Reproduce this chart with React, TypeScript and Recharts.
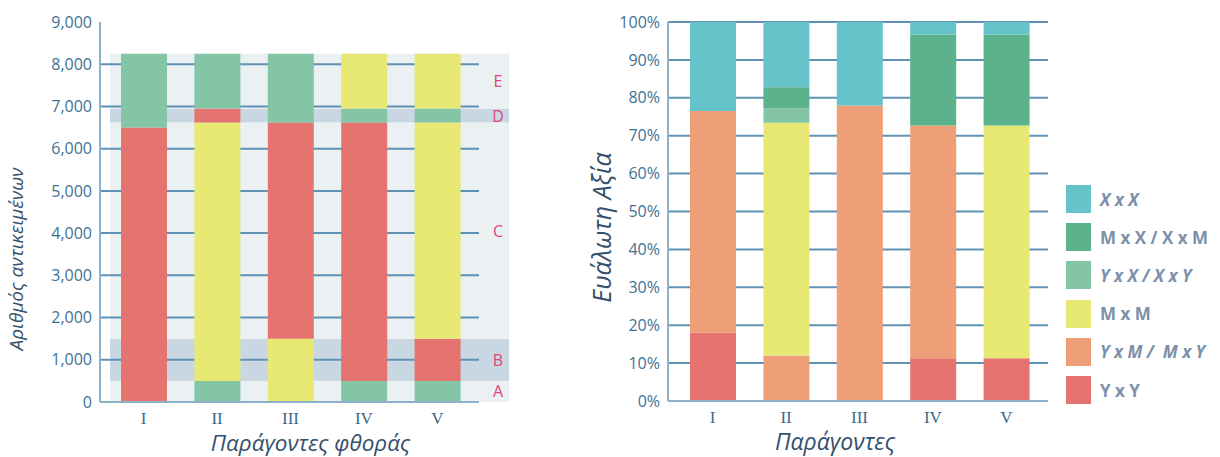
import React from 'react';
import {
  BarChart,
  Bar,
  Cell,
  XAxis,
  YAxis,
  CartesianGrid,
  ReferenceArea,
  Legend,
  Label,
} from 'recharts';

// categories
const factors = ['I', 'II', 'III', 'IV', 'V'];

// left chart: segments per factor, bottom to top [count, class]
const wearSegments: [number, string][][] = [
  [[6500, 'YY'], [1750, 'YX']],
  [[500, 'YX'], [6120, 'MM'], [330, 'YY'], [1300, 'YX']],
  [[1500, 'MM'], [5120, 'YY'], [1630, 'YX']],
  [[500, 'YX'], [6120, 'YY'], [330, 'YX'], [1300, 'MM']],
  [[500, 'YX'], [1000, 'YY'], [5120, 'MM'], [330, 'YX'], [1300, 'MM']],
];
const countTicks = [0, 1000, 2000, 3000, 4000, 5000, 6000, 7000, 8000, 9000];

// left chart background zones
const zoneLetters = ['A', 'B', 'C', 'D', 'E'];
const zoneFrom = [0, 500, 1500, 6620, 6950];
const zoneTo = [500, 1500, 6620, 6950, 8250];

// right chart: share of vulnerable value (%)
const seriesKeys = ['YY', 'YM', 'MM', 'YX', 'MX', 'XX'];
const seriesNames = ['Y x Y', 'Y x M /  M x Y', 'M x M', 'Y x X / X x Y', 'M x X / X x M', 'X x X'];
const yyShare = [18, 0, 0, 11.3, 11.3];
const ymShare = [58.5, 12, 78, 61.4, 0];
const mmShare = [0, 61.4, 0, 0, 61.4];
const yxShare = [0, 3.8, 0, 0, 0];
const mxShare = [0, 5.6, 0, 24, 24];
const xxShare = [23.5, 17.2, 22, 3.3, 3.3];
const pctTicks = [0, 10, 20, 30, 40, 50, 60, 70, 80, 90, 100];

const COLORS: Record<string, string> = {
  YY: '#e57470',
  YM: '#ee9f77',
  MM: '#e8e875',
  YX: '#83c5a5',
  MX: '#5bb28c',
  XX: '#66c3c9',
};
const ITALIC: Record<string, boolean> = { XX: true, MX: false, YX: true, MM: false, YM: true, YY: false };

const GRID = '#5f92b4';
const FRAME = '#8db1ca';
const TICK = '#3e7296';
const TITLE = '#34506c';
const SANS = '"Open Sans", sans-serif';
const PAD_L = 7;
const PAD_R = 5;

const wearRows = factors.map((f, i) => {
  const row: any = { factor: f };
  for (let j = 0; j < 5; j++) {
    const seg = wearSegments[i][j];
    row['s' + j] = seg ? seg[0] : 0;
    row['c' + j] = seg ? seg[1] : null;
  }
  return row;
});

const shareRows = factors.map((f, i) => ({
  factor: f,
  YY: yyShare[i],
  YM: ymShare[i],
  MM: mmShare[i],
  YX: yxShare[i],
  MX: mxShare[i],
  XX: xxShare[i],
}));

const serifTick = (props: any) => {
  const { x, y, payload } = props;
  return (
    <text x={x} y={y + 14} textAnchor="middle" fill="#3d6a8a" fontSize={17} fontFamily='"Liberation Serif", serif'>
      {payload.value}
    </text>
  );
};

const title = (text: string, dx: number, dy: number, vertical: boolean, size: number) => (props: any) => {
  const vb = props.viewBox;
  const cx = vertical ? vb.x + dx : vb.x + vb.width / 2 + dx;
  const cy = vertical ? vb.y + vb.height / 2 + dy : vb.y + dy;
  return (
    <text
      x={cx}
      y={cy}
      textAnchor="middle"
      fill={TITLE}
      fontSize={size}
      fontStyle="italic"
      fontFamily={SANS}
      transform={vertical ? `rotate(-90 ${cx} ${cy})` : undefined}
    >
      {text}
    </text>
  );
};

// zone band, with the grid lines that fall inside it redrawn on top
const zoneShape = (idx: number) => (props: any) => {
  const { x, y, width, height } = props;
  const from = zoneFrom[idx];
  const to = zoneTo[idx];
  const k = height / (to - from);
  const inside = countTicks.filter((t) => t > from && t < to);
  return (
    <g>
      <rect x={x + 3} y={y} width={width + 32} height={height} fill={idx % 2 ? '#c8d7e1' : '#ebf0f3'} />
      {inside.map((t) => {
        const py = y + height - (t - from) * k;
        return <line key={t} x1={x - PAD_L} x2={x + width + PAD_R} y1={py} y2={py} stroke={GRID} strokeWidth={2} />;
      })}
      <text x={x + width + 24} y={y + height / 2 + 6} textAnchor="middle" fill="#e0457b" fontSize={16} fontFamily={SANS}>
        {zoneLetters[idx]}
      </text>
    </g>
  );
};

const ShareLegend = () => (
  <div style={{ display: 'flex', flexDirection: 'column' }}>
    {[...seriesKeys].reverse().map((k) => (
      <div key={k} style={{ display: 'flex', alignItems: 'center', height: 38.2 }}>
        <div style={{ width: 25, height: 28, background: COLORS[k], marginRight: 9 }} />
        <span
          style={{
            fontFamily: SANS,
            fontSize: 17,
            fontWeight: 700,
            fontStyle: ITALIC[k] ? 'italic' : 'normal',
            color: '#7c90a9',
            whiteSpace: 'pre',
          }}
        >
          {seriesNames[seriesKeys.indexOf(k)]}
        </span>
      </div>
    ))}
  </div>
);

export default function App() {
  return (
    <div style={{ position: 'absolute', left: 0, top: 0, width: 1220, height: 457, background: '#fff' }}>
      <div style={{ position: 'absolute', left: 0, top: 0 }}>
        <BarChart width={540} height={457} data={wearRows} margin={{ top: 22, right: 61, bottom: 25, left: 0 }}>
          {zoneFrom.map((v, i) => (
            <ReferenceArea key={i} y1={v} y2={zoneTo[i]} ifOverflow="visible" shape={zoneShape(i)} />
          ))}
          <XAxis
            dataKey="factor"
            height={30}
            padding={{ left: PAD_L, right: PAD_R }}
            tickLine={false}
            axisLine={{ stroke: FRAME, strokeWidth: 2 }}
            tick={serifTick}
            interval={0}
          >
            <Label content={title('Παράγοντες φθοράς', 21, 49, false, 22.5)} />
          </XAxis>
          <XAxis xAxisId="top" dataKey="factor" orientation="top" height={0} tick={false} tickLine={false} axisLine={{ stroke: FRAME, strokeWidth: 2 }} />
          <YAxis
            width={100}
            domain={[0, 9000]}
            ticks={countTicks}
            tickFormatter={(v: number) => v.toLocaleString('en-US')}
            tickLine={false}
            axisLine={{ stroke: FRAME, strokeWidth: 2 }}
            tick={{ fill: TICK, fontSize: 16, fontFamily: SANS }}
            interval={0}
          >
            <Label content={title('Αριθμός αντικειμένων', 23, 47, true, 19)} />
          </YAxis>
          <YAxis yAxisId="right" orientation="right" width={0} tick={false} tickLine={false} axisLine={{ stroke: FRAME, strokeWidth: 2 }} />
          {[0, 1, 2, 3, 4].map((j) => (
            <Bar key={j} dataKey={'s' + j} stackId="w" barSize={46} isAnimationActive={false}>
              {wearRows.map((r, i) => (
                <Cell key={i} fill={r['c' + j] ? COLORS[r['c' + j]] : 'none'} />
              ))}
            </Bar>
          ))}
        </BarChart>
      </div>

      <div style={{ position: 'absolute', left: 580, top: 0 }}>
        <BarChart width={640} height={457} data={shareRows} margin={{ top: 22, right: 172, bottom: 26, left: 0 }}>
          <CartesianGrid vertical={false} stroke={GRID} strokeWidth={2} />
          <XAxis
            dataKey="factor"
            height={30}
            padding={{ left: 8, right: 5 }}
            tickLine={false}
            axisLine={{ stroke: FRAME, strokeWidth: 2 }}
            tick={serifTick}
            interval={0}
          >
            <Label content={title('Παράγοντες', -23, 49, false, 23)} />
          </XAxis>
          <XAxis xAxisId="top" dataKey="factor" orientation="top" height={0} tick={false} tickLine={false} axisLine={{ stroke: FRAME, strokeWidth: 2 }} />
          <YAxis
            width={88}
            domain={[0, 100]}
            ticks={pctTicks}
            tickFormatter={(v: number) => `${v}%`}
            tickLine={false}
            axisLine={{ stroke: FRAME, strokeWidth: 2 }}
            tick={{ fill: TICK, fontSize: 16, fontFamily: SANS }}
            interval={0}
          >
            <Label content={title('Ευάλωτη Αξία', 31, 16, true, 25)} />
          </YAxis>
          <YAxis yAxisId="right" orientation="right" width={0} tick={false} tickLine={false} axisLine={{ stroke: FRAME, strokeWidth: 2 }} />
          {seriesKeys.map((k, i) => (
            <Bar key={k} dataKey={k} name={seriesNames[i]} stackId="v" barSize={46} fill={COLORS[k]} isAnimationActive={false} />
          ))}
          <Legend
            layout="vertical"
            align="center"
            verticalAlign="middle"
            content={ShareLegend}
            wrapperStyle={{ left: 486, top: 180, width: 154 }}
          />
        </BarChart>
      </div>
    </div>
  );
}
